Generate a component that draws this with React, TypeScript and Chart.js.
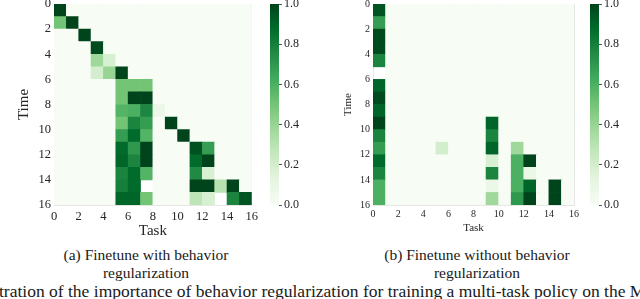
import React, { useEffect, useRef } from "react";
import { Chart, registerables } from "chart.js";

Chart.register(...registerables);

// ---------------- data ----------------
const taskCount = 16;
const axisTicks = [0, 2, 4, 6, 8, 10, 12, 14, 16];
const colorbarTicks = [0, 0.2, 0.4, 0.6, 0.8, 1.0];

const N = null;
// rows = time 0..15, cols = task 0..15 ; null = masked (white)
const withBehaviorReg: (number | null)[][] = [
  [1.0, 0, 0, 0, 0, 0, 0, 0, 0, 0, 0, 0, 0, 0, 0, 0],
  [0.5, 1.0, 0, 0, 0, 0, 0, 0, 0, 0, 0, 0, 0, 0, 0, 0],
  [0, 0, 1.0, 0, 0, 0, 0, 0, 0, 0, 0, 0, 0, 0, 0, 0],
  [0, 0, 0, 0.98, 0, 0, 0, 0, 0, 0, 0, 0, 0, 0, 0, 0],
  [0, 0, 0, 0.38, 0.18, 0, 0, 0, 0, 0, 0, 0, 0, 0, 0, 0],
  [0, 0, 0, 0.2, 0.4, 1.0, 0, 0, 0, 0, 0, 0, 0, 0, 0, 0],
  [0, 0, 0, 0, 0, 0.5, 0.5, 0.5, 0, 0, 0, 0, 0, 0, 0, 0],
  [0, 0, 0, 0, 0, 0.5, 1.0, 1.0, 0, 0, 0, 0, 0, 0, 0, 0],
  [0, 0, 0, 0, 0, 0.58, 0.6, 0.77, 0.08, 0, 0, 0, 0, 0, 0, 0],
  [0, 0, 0, 0, 0, 0.5, 0.78, 0.68, 0, 1.0, 0, 0, 0, 0, 0, 0],
  [0, 0, 0, 0, 0, 0.68, 0.88, 0.58, 0, 0, 1.0, 0, 0, 0, 0, 0],
  [0, 0, 0, 0, 0, 0.88, 0.7, 1.0, 0, 0, 0, 0.96, 0.68, 0, 0, 0],
  [0, 0, 0, 0, 0, 0.9, 0.78, 1.0, 0, 0, 0, 0.88, 1.0, 0, 0, 0],
  [0, 0, 0, 0, 0, 0.78, 0.88, 0.58, 0, 0, 0, 0.76, 0.18, 0, 0, 0],
  [0, 0, 0, 0, 0, 0.8, 0.88, N, 0, 0, 0, 1.0, 1.0, 0.3, 1.0, 0],
  [0, 0, 0, 0, 0, 0.9, 0.9, 0.5, 0, 0, 0, 0.28, 0.18, N, 0.78, 0.95],
];

const withoutBehaviorReg: (number | null)[][] = [
  [0.95, 0, 0, 0, 0, 0, 0, 0, 0, 0, 0, 0, 0, 0, 0, 0],
  [0.68, 0, 0, 0, 0, 0, 0, 0, 0, 0, 0, 0, 0, 0, 0, 0],
  [0.98, 0, 0, 0, 0, 0, 0, 0, 0, 0, 0, 0, 0, 0, 0, 0],
  [0.98, 0, 0, 0, 0, 0, 0, 0, 0, 0, 0, 0, 0, 0, 0, 0],
  [0.78, 0, 0, 0, 0, 0, 0, 0, 0, 0, 0, 0, 0, 0, 0, 0],
  [N, 0, 0, 0, 0, 0, 0, 0, 0, 0, 0, 0, 0, 0, 0, 0],
  [0.9, 0, 0, 0, 0, 0, 0, 0, 0, 0, 0, 0, 0, 0, 0, 0],
  [0.98, 0, 0, 0, 0, 0, 0, 0, 0, 0, 0, 0, 0, 0, 0, 0],
  [0.9, 0, 0, 0, 0, 0, 0, 0, 0, 0, 0, 0, 0, 0, 0, 0],
  [1.0, 0, 0, 0, 0, 0, 0, 0, 0, 0.9, 0, 0, 0, 0, 0, 0],
  [0.78, 0, 0, 0, 0, 0, 0, 0, 0, 0.78, 0, 0, 0, 0, 0, 0],
  [0.68, 0, 0, 0, 0, 0.2, 0, 0, 0, 0.9, 0, 0.38, 0, 0, 0, 0],
  [0.88, 0, 0, 0, 0, 0, 0, 0, 0, 0.18, 0, 0.6, 1.0, 0, 0, 0],
  [0.78, 0, 0, 0, 0, 0, 0, 0, 0, 0.78, 0, 0.6, 0.08, 0, 0, 0],
  [0.6, 0, 0, 0, 0, 0, 0, 0, 0, 0.08, 0, 0.6, 0.9, 0, 1.0, 0],
  [0.6, 0, 0, 0, 0, 0, 0, 0, 0, 0.38, 0, 0.7, 1.0, 0, 1.0, 0],
];

const captionA = ["(a) Finetune with behavior", "regularization"];
const captionB = ["(b) Finetune without behavior", "regularization"];
const bottomText =
  "tration of the importance of behavior regularization for training a multi-task policy on the Meta-World benchmark.";

// ---------------- helpers ----------------
const SERIF = "'Liberation Serif', 'DejaVu Serif', 'Times New Roman', serif";
const GREENS = [
  [247, 252, 245],
  [229, 245, 224],
  [199, 233, 192],
  [161, 217, 155],
  [116, 196, 118],
  [65, 171, 93],
  [35, 139, 69],
  [0, 109, 44],
  [0, 68, 27],
];

function greens(v: number): string {
  const t = Math.max(0, Math.min(1, v)) * (GREENS.length - 1);
  const i = Math.min(GREENS.length - 2, Math.floor(t));
  const f = t - i;
  const a = GREENS[i];
  const b = GREENS[i + 1];
  const c = a.map((x, k) => Math.round(x + (b[k] - x) * f));
  return `rgb(${c[0]},${c[1]},${c[2]})`;
}

function cells(matrix: (number | null)[][]) {
  const out: any[] = [];
  matrix.forEach((row, r) => {
    row.forEach((v, c) => {
      if (v === null || c >= taskCount) return;
      out.push({ x: c + 0.5, y: [r, r + 1], v });
    });
  });
  return out;
}

type PanelCfg = {
  matrix: (number | null)[][];
  tickSize: number;
  titleSize: number;
  yAxisWidth: number;
  yTitlePad: number;
  xTitlePad: number;
  xTickPad: number;
};

const TEXT = "#262626";
const EDGE = "#e6e6e6";

function Heatmap({ cfg, left }: { cfg: PanelCfg; left: number }) {
  const ref = useRef<HTMLCanvasElement | null>(null);
  useEffect(() => {
    if (!ref.current) return;
    const setTicks = (s: any) => {
      s.ticks = axisTicks.map((v) => ({ value: v }));
    };
    const chart = new Chart(ref.current, {
      type: "bar",
      data: {
        datasets: [
          {
            data: cells(cfg.matrix),
            backgroundColor: (ctx: any) => greens(ctx.raw ? ctx.raw.v : 0),
            borderWidth: 0,
            barPercentage: 1,
            categoryPercentage: 1,
          } as any,
        ],
      },
      options: {
        animation: false,
        responsive: false,
        maintainAspectRatio: false,
        layout: { padding: { left: 0, right: 7, top: 14, bottom: 0 } },
        plugins: { legend: { display: false }, tooltip: { enabled: false } },
        scales: {
          x: {
            type: "linear",
            min: 0,
            max: 16,
            offset: false,
            grid: { display: false, drawTicks: false },
            border: { display: true, color: EDGE, width: 1 },
            afterBuildTicks: setTicks,
            ticks: {
              autoSkip: false,
              maxRotation: 0,
              padding: cfg.xTickPad,
              color: TEXT,
              font: { family: SERIF, size: cfg.tickSize },
              callback: (v: any) => String(v),
            },
            title: {
              display: true,
              text: "Task",
              color: TEXT,
              font: { family: SERIF, size: cfg.titleSize },
              padding: { top: 0, bottom: cfg.xTitlePad },
            },
            afterFit: (s: any) => {
              s.height = 35;
            },
          },
          y: {
            type: "linear",
            min: 0,
            max: 16,
            reverse: true,
            grid: { display: false, drawTicks: false },
            border: { display: true, color: EDGE, width: 1 },
            afterBuildTicks: setTicks,
            ticks: {
              autoSkip: false,
              padding: 3,
              color: TEXT,
              font: { family: SERIF, size: cfg.tickSize },
              callback: (v: any) => String(v),
            },
            title: {
              display: true,
              text: "Time",
              color: TEXT,
              font: { family: SERIF, size: cfg.titleSize },
              padding: { top: cfg.yTitlePad, bottom: 0 },
            },
            afterFit: (s: any) => {
              s.width = cfg.yAxisWidth;
            },
          },
          x2: {
            type: "linear",
            position: "top",
            min: 0,
            max: 16,
            grid: { display: false, drawTicks: false },
            border: { display: true, color: EDGE, width: 1 },
            ticks: { display: false },
            afterFit: (s: any) => {
              s.height = 0;
            },
          },
          y2: {
            type: "linear",
            position: "right",
            min: 0,
            max: 16,
            grid: { display: false, drawTicks: false },
            border: { display: true, color: EDGE, width: 1 },
            ticks: { display: false },
            afterFit: (s: any) => {
              s.width = 0;
            },
          },
        },
      } as any,
    });
    return () => chart.destroy();
  }, [cfg]);
  return (
    <canvas
      ref={ref}
      width={262}
      height={250}
      style={{ position: "absolute", left, top: -10, width: 262, height: 250 }}
    />
  );
}

function Colorbar({ left }: { left: number }) {
  const ref = useRef<HTMLCanvasElement | null>(null);
  useEffect(() => {
    if (!ref.current) return;
    const chart = new Chart(ref.current, {
      type: "bar",
      data: {
        labels: [""],
        datasets: [
          {
            data: [[colorbarTicks[0], colorbarTicks[colorbarTicks.length - 1]]],
            backgroundColor: (ctx: any) => {
              const ca = ctx.chart.chartArea;
              if (!ca) return greens(0);
              const g = ctx.chart.ctx.createLinearGradient(0, ca.bottom, 0, ca.top);
              GREENS.forEach((c, i) => g.addColorStop(i / (GREENS.length - 1), `rgb(${c[0]},${c[1]},${c[2]})`));
              return g;
            },
            borderWidth: 0,
            barPercentage: 1,
            categoryPercentage: 1,
          } as any,
        ],
      },
      options: {
        animation: false,
        responsive: false,
        maintainAspectRatio: false,
        layout: { padding: { left: 8, right: 0, top: 14, bottom: 25 } },
        plugins: { legend: { display: false }, tooltip: { enabled: false } },
        scales: {
          x: { display: false },
          y: {
            position: "right",
            min: 0,
            max: 1,
            grid: { drawOnChartArea: false, drawTicks: true, tickLength: 3, tickColor: "#555", tickWidth: 1 },
            border: { display: false },
            afterBuildTicks: (s: any) => {
              s.ticks = colorbarTicks.map((v) => ({ value: v }));
            },
            ticks: {
              autoSkip: false,
              padding: 2,
              color: TEXT,
              font: { family: SERIF, size: 12 },
              callback: (v: any) => Number(v).toFixed(1),
            },
            afterFit: (s: any) => {
              s.width = 41;
            },
          },
        },
      } as any,
    });
    return () => chart.destroy();
  }, []);
  return (
    <canvas
      ref={ref}
      width={58}
      height={240}
      style={{ position: "absolute", left, top: -10, width: 58, height: 240 }}
    />
  );
}

const panelA: PanelCfg = {
  matrix: withBehaviorReg,
  tickSize: 12.5,
  titleSize: 15,
  yAxisWidth: 54,
  yTitlePad: 15,
  xTitlePad: 0,
  xTickPad: 4,
};
const panelB: PanelCfg = {
  matrix: withoutBehaviorReg,
  tickSize: 10,
  titleSize: 11,
  yAxisWidth: 53,
  yTitlePad: 22,
  xTitlePad: 5,
  xTickPad: 3,
};

function Caption({ lines, center }: { lines: string[]; center: number }) {
  return (
    <div
      style={{
        position: "absolute",
        left: center - 150,
        width: 300,
        top: 246,
        textAlign: "center",
        fontFamily: SERIF,
        fontSize: 15.5,
        lineHeight: "18px",
        color: "#1a1a1a",
      }}
    >
      {lines.map((l, i) => (
        <div key={i}>{l}</div>
      ))}
    </div>
  );
}

export default function App() {
  useEffect(() => {
    document.body.style.margin = "0";
  }, []);
  return (
    <div
      style={{
        position: "relative",
        width: 640,
        height: 299,
        overflow: "hidden",
        background: "#fff",
      }}
    >
      <Heatmap cfg={panelA} left={0} />
      <Colorbar left={262} />
      <Heatmap cfg={panelB} left={320} />
      <Colorbar left={582} />
      <Caption lines={captionA} center={146} />
      <Caption lines={captionB} center={477} />
      <div
        style={{
          position: "absolute",
          left: -1,
          top: 281,
          whiteSpace: "nowrap",
          fontFamily: SERIF,
          fontSize: 17.5,
          lineHeight: "20px",
          color: "#1a1a1a",
        }}
      >
        {bottomText}
      </div>
    </div>
  );
}
